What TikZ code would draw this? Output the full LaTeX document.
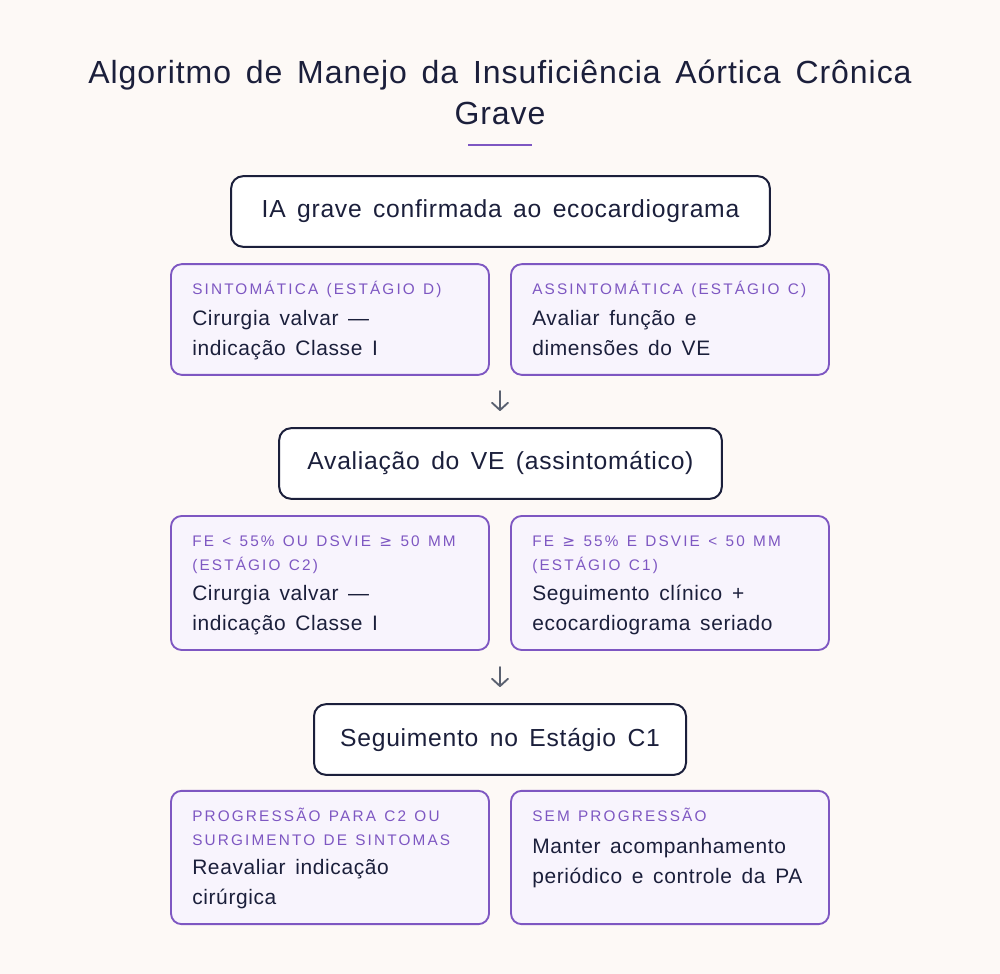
\documentclass[tikz,border=0pt]{standalone}
\usepackage{fontspec}
\setmainfont{Liberation Sans}[LetterSpace=3, WordSpace=1.5]
\newfontfamily\tagfont{Liberation Sans}[LetterSpace=14, WordSpace=1.3]
\newfontfamily\symfont{DejaVu Sans}
\usetikzlibrary{arrows.meta}

\definecolor{paper}{HTML}{FDF9F6}
\definecolor{ink}{HTML}{1B1F3B}
\definecolor{violet}{HTML}{7E57C2}
\definecolor{lilac}{HTML}{F8F4FD}
\definecolor{slate}{HTML}{5A6170}

\begin{document}
\begin{tikzpicture}[x=0.75pt,y=-0.75pt,
    mainbox/.style={draw=ink, line width=1.5pt, fill=white, rounded corners=9pt,
        minimum height=53pt, text=ink, font=\fontsize{18.5}{21}\selectfont},
    card/.style={draw=violet, line width=1.4pt, fill=lilac, rounded corners=8pt,
        minimum width=238.5pt},
    tag/.style={anchor=base west, inner sep=0pt, align=left, text=violet,
        font=\tagfont\fontsize{11.5}{18}\selectfont},
    body/.style={anchor=base west, inner sep=0pt, align=left, text=ink,
        font=\fontsize{15.7}{22.5}\selectfont},
    flow/.style={draw=slate, line width=1.4pt, line cap=round,
        -{Straight Barb[length=5.5pt,width=12pt,round]}}]

    % Background and frame
    \fill[paper] (0,0) rectangle (1000,974);

    % Title
    \node[text=ink, align=center, font=\fontsize{24}{30.75}\selectfont] (title) at (500,92)
        {Algoritmo de Manejo da Insuficiência Aórtica Crônica\\Grave};
    \draw[violet, line width=2.2pt] (468,145) -- (532,145);

    % Step 1 (multi-line texts sit on the baseline of their last line)
    \node[mainbox, minimum width=404pt] (confirm) at (500.5,211.5) {IA grave confirmada ao ecocardiograma};
    \node[card, minimum height=83pt] (sympt) at (330,319.5) {};
    \node[card, minimum height=83pt] (asympt) at (670,319.5) {};
    \node[tag] (symptTag) at (192,294.5) {SINTOMÁTICA (ESTÁGIO D)};
    \node[body] (symptTxt) at (192,355) {Cirurgia valvar —\\indicação Classe I};
    \node[tag] (asymptTag) at (532,294.5) {ASSINTOMÁTICA (ESTÁGIO C)};
    \node[body] (asymptTxt) at (532,355) {Avaliar função e\\dimensões do VE};

    \coordinate (a1) at (500,391);
    \coordinate (a2) at (500,411);
    \draw[flow] (a1) -- (a2);

    % Step 2
    \node[mainbox, minimum width=332pt] (lv) at (500.5,463.5) {Avaliação do VE (assintomático)};
    \node[card, minimum height=100.5pt] (lowef) at (330,583) {};
    \node[card, minimum height=100.5pt] (goodef) at (670,583) {};
    \node[tag] (lowefTag) at (192,570.5) {FE < 55\% OU DSVIE {\symfont ≥} 50 MM\\(ESTÁGIO C2)};
    \node[body] (lowefTxt) at (192,630) {Cirurgia valvar —\\indicação Classe I};
    \node[tag] (goodefTag) at (532,570.5) {FE {\symfont ≥} 55\% E DSVIE < 50 MM\\(ESTÁGIO C1)};
    \node[body] (goodefTxt) at (532,630) {Seguimento clínico +\\ecocardiograma seriado};

    \coordinate (b1) at (500,667);
    \coordinate (b2) at (500,687);
    \draw[flow] (b1) -- (b2);

    % Step 3
    \node[mainbox, minimum width=279pt] (follow) at (500,739.5) {Seguimento no Estágio C1};
    \node[card, minimum height=100pt] (prog) at (330,857.5) {};
    \node[card, minimum height=100pt] (stable) at (670,857.5) {};
    \node[tag] (progTag) at (192,845) {PROGRESSÃO PARA C2 OU\\SURGIMENTO DE SINTOMAS};
    \node[body] (progTxt) at (192,904) {Reavaliar indicação\\cirúrgica};
    \node[tag] (stableTag) at (532,821.5) {SEM PROGRESSÃO};
    \node[body] (stableTxt) at (532,883) {Manter acompanhamento\\periódico e controle da PA};
\end{tikzpicture}
\end{document}
